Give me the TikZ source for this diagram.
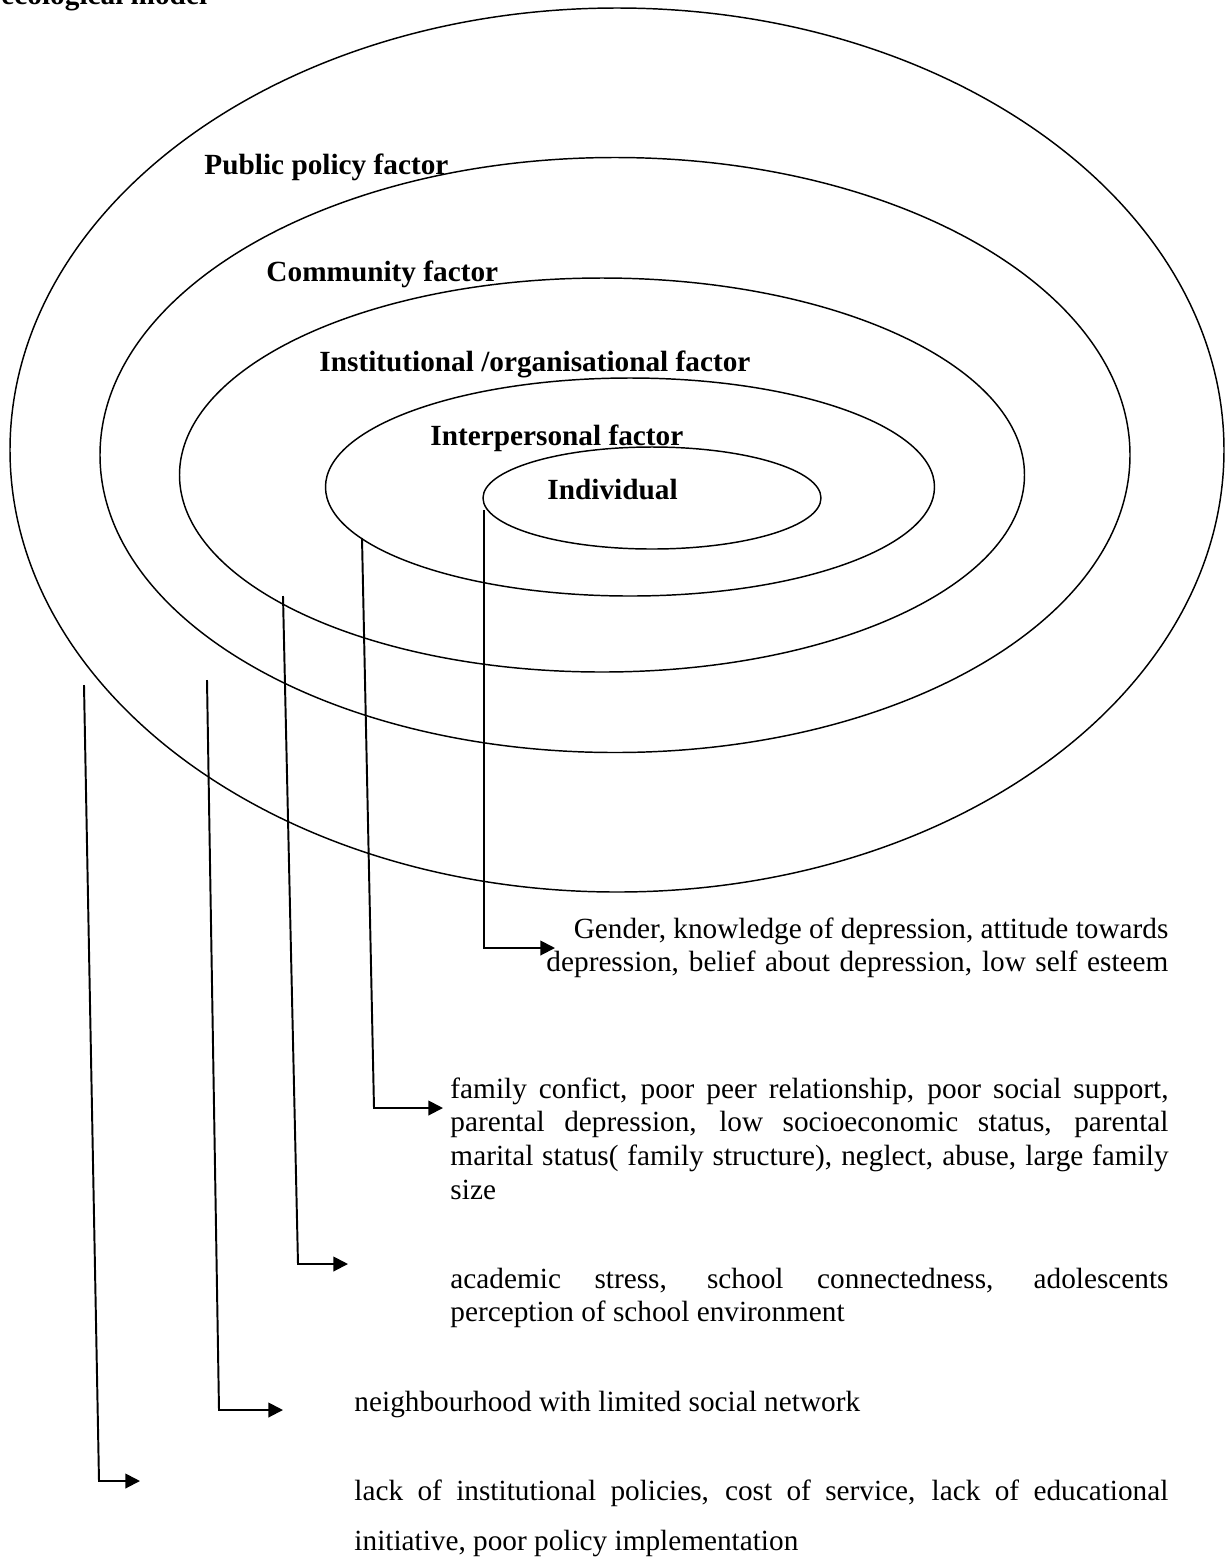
\documentclass[tikz,border=0pt]{standalone}
\usepackage{fontspec}
\setmainfont{Liberation Serif}
\usetikzlibrary{arrows.meta,shapes.geometric}

% the font's own word spaces (align=left fixes them otherwise)
\newcommand{\natspace}{\spaceskip=0pt\xspaceskip=0pt\relax}
% one justified line of a factor list
\newcommand{\fullline}[1]{\makebox[\linewidth][s]{\natspace #1}}

\begin{document}
\begin{tikzpicture}[
        x=0.41pt,
        y=-0.41pt,
        font=\fontsize{12pt}{13.9pt}\selectfont,
        ring/.style n args={2}{
            draw,
            ellipse,
            line width=0.6pt,
            inner sep=0pt,
            minimum width=#1*0.41pt,
            minimum height=#2*0.41pt
        },
        level/.style={
            font=\fontsize{12pt}{13.9pt}\selectfont\bfseries,
            anchor=base west,
            inner sep=0pt
        },
        factors/.style={
            anchor=base west,
            inner sep=0pt,
            align=left,
            execute at begin node=\natspace
        },
        arrow/.style={
            -{Triangle[length=6pt,width=6pt]},
            line width=0.8pt
        }
    ]

        \useasboundingbox (0,0) rectangle (1232,1560);

        % heading, cut by the top edge
        \node[level] (title) at (1,4) {ecological model};

        % the five levels, outermost first
        \node[ring={1214}{884}] (public)        at (617,450) {};
        \node[ring={1030}{595}] (community)     at (615,455) {};
        \node[ring={845}{394}]  (institution)   at (602,475) {};
        \node[ring={609}{218}]  (interpersonal) at (630,487) {};
        \node[ring={338}{102}]  (individual)    at (652,498) {};

        % level names
        \node[level] (public-label)        at (204,174) {Public policy factor};
        \node[level] (community-label)     at (266,281) {Community factor};
        \node[level] (institution-label)   at (319,371) {Institutional /organisational factor};
        \node[level] (interpersonal-label) at (430,445) {Interpersonal factor};
        \node[level] (individual-label)    at (547,499) {Individual};

        % factors of each level
        \node[factors, text width=255pt] (individual-text) at (546,938)
            {\natspace\makebox[\linewidth][r]{\natspace Gender, knowledge of depression, attitude towards}\\
             \fullline{depression, belief about depression, low self esteem}};

        \node[factors, text width=294.4pt] (interpersonal-text) at (450,1098)
            {\natspace\fullline{family confict, poor peer relationship, poor social support,}\\
             \fullline{parental depression, low socioeconomic status, parental}\\
             \fullline{marital status( family structure), neglect, abuse, large family}\\
             size};

        \node[factors, text width=294.4pt] (institution-text) at (450,1288)
            {\natspace\fullline{academic stress, school connectedness, adolescents}\\
             perception of school environment};

        \node[factors] (community-text) at (354,1411)
            {\natspace neighbourhood with limited social network};

        \node[factors, text width=333.7pt,
              font=\fontsize{12pt}{20.9pt}\selectfont] (public-text) at (354,1500)
            {\natspace\fullline{lack of institutional policies, cost of service, lack of educational}\\
             initiative, poor policy implementation};

        % end points of the leader lines
        \coordinate (individual-from)    at (484,510);
        \coordinate (individual-bend)    at (484,948);
        \coordinate (individual-to)      at (555,948);

        \coordinate (interpersonal-from) at (362,538);
        \coordinate (interpersonal-bend) at (374,1108);
        \coordinate (interpersonal-to)   at (443,1108);

        \coordinate (institution-from)   at (283,596);
        \coordinate (institution-bend)   at (298,1264);
        \coordinate (institution-to)     at (348,1264);

        \coordinate (community-from)     at (207,680);
        \coordinate (community-bend)     at (219,1410);
        \coordinate (community-to)       at (283,1410);

        \coordinate (public-from)        at (84,685);
        \coordinate (public-bend)        at (99,1481);
        \coordinate (public-to)          at (140,1481);

        % leader lines
        \draw[arrow] (individual-from) -- (individual-bend) -- (individual-to);
        \draw[arrow] (interpersonal-from) -- (interpersonal-bend) -- (interpersonal-to);
        \draw[arrow] (institution-from) -- (institution-bend) -- (institution-to);
        \draw[arrow] (community-from) -- (community-bend) -- (community-to);
        \draw[arrow] (public-from) -- (public-bend) -- (public-to);

    \end{tikzpicture}
\end{document}
